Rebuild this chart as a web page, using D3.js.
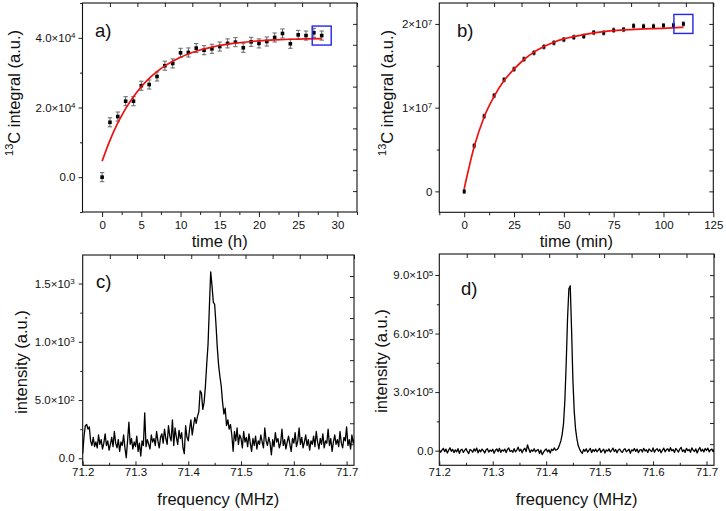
<!DOCTYPE html>
<html><head><meta charset="utf-8">
<script src="https://cdn.jsdelivr.net/npm/d3@7"></script>
<style>
body{margin:0;background:#fff}
svg{display:block}
text{font-family:"Liberation Sans",Arial,sans-serif;fill:#111}
</style>
</head><body>
<svg id="chart" width="726" height="511"></svg>
<script>
// ---------- Panel a data ----------
const timeA = [0,1,2,3,4,5,6,7,8,9,10,11,12,13,14,15,16,17,18,19,20,21,22,23,24,25,26,27,28];
const integralA = [0,15750,17400,21800,21800,26250,26600,28900,32000,32650,35700,35800,37050,36450,36850,37500,38400,38750,37150,38850,38400,38950,40100,41250,38300,40850,40650,41450,40650];
const errA = [1300,1300,1300,1300,1300,1300,1300,1300,1300,1300,1300,1300,1300,1300,1300,1300,1300,1300,1300,1300,1300,1300,1300,1300,1300,1300,1300,1300,1300];
const fitTimeA = [0,1,2,3,4,5,6,7,8,9,10,11,12,13,14,15,16,17,18,19,20,22,24,26,28];
const fitA = [4600,10580,15560,19690,23120,25970,28350,30310,31950,33310,34440,35380,36160,36810,37350,37800,38170,38480,38740,38950,39130,39400,39590,39710,39800];
const yTicksA = [0,20000,40000];
const yTickLabelsA = [["0.0",""],["2.0×10","4"],["4.0×10","4"]];
const yMinorA = [-10000,10000,30000,50000];
const xTicksA = [0,5,10,15,20,25,30];
const xMinorA = [2.5,7.5,12.5,17.5,22.5,27.5,32.5];

// ---------- Panel b data ----------
const timeB = [0,5,10,15,20,25,30,35,40,45,50,55,60,65,70,75,80,85,90,95,100,105,110];
const integralB = [0,5.44e6,8.97e6,1.143e7,1.333e7,1.46e7,1.579e7,1.655e7,1.726e7,1.774e7,1.813e7,1.841e7,1.853e7,1.897e7,1.893e7,1.925e7,1.933e7,1.976e7,1.972e7,1.972e7,1.98e7,1.984e7,2.0e7];
const errB = [2.5e5,2.5e5,2.5e5,2.5e5,2.5e5,2.5e5,2.5e5,2.5e5,2.5e5,2.5e5,2.5e5,2.5e5,2.5e5,2.5e5,2.5e5,2.5e5,2.5e5,2.5e5,2.5e5,2.5e5,2.5e5,2.5e5,2.5e5];
const fitTimeB = [0,5,10,15,20,25,30,35,40,45,50,55,60,70,80,90,100,110];
const fitB = [3.2e5,5.32e6,8.89e6,1.135e7,1.325e7,1.46e7,1.575e7,1.663e7,1.73e7,1.782e7,1.821e7,1.849e7,1.873e7,1.909e7,1.929e7,1.94e7,1.948e7,1.96e7];
const yTicksB = [0,1e7,2e7];
const yTickLabelsB = [["0",""],["1×10","7"],["2×10","7"]];
const yMinorB = [5e6,1.5e7];
const xTicksB = [0,25,50,75,100,125];
const xMinorB = [-12.5,12.5,37.5,62.5,87.5,112.5];

// ---------- Panel c data (spectrum, 71.200 .. 71.720 MHz, step 0.0025) ----------
const freqStart = 71.2, freqStep = 0.0025;
const intensityC = [
40,190,280,290,250,270,150,110,180,100,140,90,200,120,160,80,130,210,110,150,
70,120,180,100,230,130,90,160,60,140,110,200,90,5,150,310,120,170,80,140,
100,190,60,130,20,150,110,390,100,160,120,80,200,140,170,110,230,150,90,180,
210,130,250,170,120,280,190,150,330,110,260,180,120,240,170,220,90,40,280,180,
150,250,330,200,280,350,300,360,400,580,
560,420,480,620,810,980,1300,1600,1480,1340,1320,1150,950,800,700,620,480,380,430,280,330,250,290,200,60,
230,150,260,120,200,170,90,230,140,180,100,210,130,60,170,110,190,80,150,120,
200,140,90,260,150,110,180,130,30,160,100,220,140,170,90,130,250,110,160,80,
140,190,120,60,170,130,220,100,150,260,120,180,90,140,200,110,160,70,150,120,
190,100,230,140,80,170,120,210,90,150,130,250,110,170,60,140,200,120,160,100,
230,130,90,180,150,270,110,160,80,200,130,170,100,150];
const yTicksC = [0,500,1000,1500];
const yTickLabelsC = [["0.0",""],["5.0×10","2"],["1.0×10","3"],["1.5×10","3"]];
const yMinorC = [250,750,1250];
const xTicksF = [71.2,71.3,71.4,71.5,71.6,71.7];
const xMinorF = [71.25,71.35,71.45,71.55,71.65];

// ---------- Panel d data (same grid, values in units of 1e3) ----------
const intensityD_k = [
5,-8,3,12,-5,8,-12,2,15,-3,6,-10,4,-6,10,-14,3,7,-9,1,
11,-4,-15,6,2,-8,9,-2,13,-11,4,-6,8,0,-12,5,10,-7,3,-3,
7,-13,2,9,-5,12,-9,4,-2,8,-10,6,14,-4,1,-8,10,-6,3,18,
-2,7,-11,5,12,-5,30,8,-9,4,-3,10,-6,2,6,-14,3,-20,-8,2,
9,-6,4,-12,7,0,14,3,
5,12,30,50,85,140,260,450,680,830,845,620,360,200,110,60,25,8,-5,
-14,6,-3,10,-8,2,12,-10,5,-4,8,-6,3,11,-9,0,7,-12,4,-2,
9,-7,2,13,-5,6,-11,3,8,-3,-9,5,10,-6,1,7,-13,4,-1,11,
-4,8,-10,3,6,-7,12,-2,5,-9,9,1,-5,14,-8,4,10,-3,7,-11,
2,13,-6,5,9,-4,15,-1,6,-10,11,3,-7,8,17,-5,4,-9,12,0,
6,-8,14,2,-4,9,-12,5,16,-3,7,-7,11,1,13,-6,4,8,-5,10,-2,3];
const yTicksD = [0,300000,600000,900000];
const yTickLabelsD = [["0.0",""],["3.0×10","5"],["6.0×10","5"],["9.0×10","5"]];
const yMinorD = [150000,450000,750000];

// ---------- drawing ----------
const svg = d3.select("#chart");
const defs = svg.append("defs");
let clipId = 0;
const TICK_FONT = "11.5px", TITLE_FONT = "16.5px";

function supLabels(sel, labels){
  sel.selectAll(".tick text").each(function(d,i){
    const t = d3.select(this);
    const [m,e] = labels[i];
    t.text(null);
    t.append("tspan").text(m);
    if(e) t.append("tspan").attr("dy","-0.45em").attr("font-size","8px").text(e);
  });
}

function drawFrame(cfg){
  const {x,y,xTicks,xMinor,yTicks,yLabels,yMinor,xTitle,yTitle,tag,tagPos,xTickInward,xTitleY,yTitleX,yTitleY,ySup,yPad,xFmt} = cfg;
  const [L,R] = x.range(), [B,T] = y.range();
  const g = svg.append("g");
  // bottom axis
  g.append("g").attr("transform",`translate(0,${B})`)
    .call(d3.axisBottom(x).tickValues(xMinor.filter(v=>v>=x.domain()[0]&&v<=x.domain()[1])).tickSize(xTickInward?-2.5:3).tickFormat(""))
    .call(s=>s.select(".domain").remove());
  g.append("g").attr("transform",`translate(0,${B})`)
    .call(d3.axisBottom(x).tickValues(xTicks).tickSizeInner(xTickInward ? -4 : 5).tickSizeOuter(0).tickPadding(xTickInward?2.5:3.5)
      .tickFormat(d3.format(xFmt)))
    .call(s=>s.select(".domain").remove())
    .call(s=>s.selectAll("text").attr("font-size",TICK_FONT).attr("font-family","Liberation Sans, Arial, sans-serif").attr("fill","#111"));
  // left axis
  g.append("g").attr("transform",`translate(${L},0)`)
    .call(d3.axisLeft(y).tickValues(yMinor.filter(v=>v>=y.domain()[0]&&v<=y.domain()[1])).tickSize(2.5).tickFormat(""))
    .call(s=>s.select(".domain").remove());
  const la = g.append("g").attr("transform",`translate(${L},0)`)
    .call(d3.axisLeft(y).tickValues(yTicks).tickSizeInner(4).tickSizeOuter(0).tickPadding(yPad))
    .call(s=>s.select(".domain").remove())
    .call(s=>s.selectAll("text").attr("font-size",TICK_FONT).attr("font-family","Liberation Sans, Arial, sans-serif").attr("fill","#111"));
  supLabels(la, yLabels);
  // top & right decorative ticks (inward)
  const topS = d3.scaleLinear().domain([0,10]).range([L,R]);
  g.append("g").attr("transform",`translate(0,${T})`)
    .call(d3.axisTop(topS).tickValues([1,2,3,4,5,6,7,8,9,10]).tickSize(-4).tickFormat(""))
    .call(s=>s.select(".domain").remove());
  const rightS = d3.scaleLinear().domain([0,10]).range([B,T]);
  g.append("g").attr("transform",`translate(${R},0)`)
    .call(d3.axisRight(rightS).tickValues([1,2,3,4,5,6,7,8,9]).tickSize(-4).tickFormat(""))
    .call(s=>s.select(".domain").remove());
  g.selectAll(".tick line").attr("stroke","#222");
  // frame
  g.append("rect").attr("x",L).attr("y",T).attr("width",R-L).attr("height",B-T)
    .attr("fill","none").attr("stroke","#111").attr("stroke-width",1.1);
  // titles
  g.append("text").attr("x",(L+R)/2).attr("y",xTitleY).attr("text-anchor","middle")
    .attr("font-size",TITLE_FONT).text(xTitle);
  const yt = g.append("text").attr("transform",`translate(${yTitleX},${yTitleY}) rotate(-90)`)
    .attr("text-anchor","middle").attr("font-size",TITLE_FONT);
  if(ySup){
    yt.append("tspan").attr("font-size","11px").attr("dy","-0.6em").text(ySup);
    yt.append("tspan").attr("dy","0.38em").text(yTitle);
  } else yt.text(yTitle);
  g.append("text").attr("x",tagPos[0]).attr("y",tagPos[1]).attr("font-size","18.5px").text(tag);
  // clip
  const id = "clip"+(clipId++);
  defs.append("clipPath").attr("id",id).append("rect").attr("x",L).attr("y",T).attr("width",R-L).attr("height",B-T);
  return svg.append("g").attr("clip-path",`url(#${id})`);
}

function scatterPanel(cfg, t, v, err, ft, fv, capW, sq){
  const {x,y} = cfg;
  const g = drawFrame(cfg);
  const pts = t.map((d,i)=>({t:d,v:v[i],e:err[i]}));
  const eb = g.append("g").attr("stroke","#666").attr("stroke-width",1);
  eb.selectAll(".v").data(pts).join("line")
    .attr("x1",d=>x(d.t)).attr("x2",d=>x(d.t)).attr("y1",d=>y(d.v-d.e)).attr("y2",d=>y(d.v+d.e));
  if(capW>0){
    eb.selectAll(".c1").data(pts).join("line")
      .attr("x1",d=>x(d.t)-capW).attr("x2",d=>x(d.t)+capW).attr("y1",d=>y(d.v+d.e)).attr("y2",d=>y(d.v+d.e));
    eb.selectAll(".c2").data(pts).join("line")
      .attr("x1",d=>x(d.t)-capW).attr("x2",d=>x(d.t)+capW).attr("y1",d=>y(d.v-d.e)).attr("y2",d=>y(d.v-d.e));
  }
  g.append("g").selectAll("rect").data(pts).join("rect")
    .attr("x",d=>x(d.t)-sq[0]/2).attr("y",d=>y(d.v)-sq[1]/2).attr("width",sq[0]).attr("height",sq[1]).attr("fill","#000");
  const line = d3.line().x((d,i)=>x(ft[i])).y((d,i)=>y(fv[i])).curve(d3.curveMonotoneX);
  g.append("path").datum(fv).attr("d",line).attr("fill","none").attr("stroke","#ee1111").attr("stroke-width",1.7);
  // highlight box around the last point
  const last = pts[pts.length-1];
  const h = 9.5;
  svg.append("rect").attr("x",x(last.t)-h).attr("y",y(last.v)-h).attr("width",2*h).attr("height",2*h)
    .attr("fill","none").attr("stroke","#2424ee").attr("stroke-width",1.4);
}

function spectrumPanel(cfg, vals, scale){
  const {x,y} = cfg;
  const g = drawFrame(cfg);
  const line = d3.line().x((d,i)=>x(freqStart+i*freqStep)).y(d=>y(d*scale));
  g.append("path").datum(vals).attr("d",line).attr("fill","none").attr("stroke","#000")
    .attr("stroke-width",1.3).attr("stroke-linejoin","round");
}

// Panel a
scatterPanel({
  x:d3.scaleLinear().domain([-2.5,32.5]).range([82.5,357]),
  y:d3.scaleLinear().domain([-10000,50000]).range([212,3]),
  xTicks:xTicksA,xMinor:xMinorA,yTicks:yTicksA,yLabels:yTickLabelsA,yMinor:yMinorA,xFmt:"d",
  xTitle:"time (h)",yTitle:"C integral (a.u.)",ySup:"13",tag:"a)",tagPos:[95,37],
  xTitleY:247,yTitleX:20,yTitleY:93,yPad:3
}, timeA, integralA, errA, fitTimeA, fitA, 2.2, [3.6,3.6]);

// Panel b
scatterPanel({
  x:d3.scaleLinear().domain([-12.5,125]).range([439.3,713.3]),
  y:d3.scaleLinear().domain([-2.5e6,2.25e7]).range([212.3,3]),
  xTicks:xTicksB,xMinor:xMinorB,yTicks:yTicksB,yLabels:yTickLabelsB,yMinor:yMinorB,xFmt:"d",
  xTitle:"time (min)",yTitle:"C integral (a.u.)",ySup:"13",tag:"b)",tagPos:[457,37],
  xTitleY:247,yTitleX:393,yTitleY:93,yPad:3
}, timeB, integralB, errB, fitTimeB, fitB, 1.2, [3,3.6]);

// Panel c
spectrumPanel({
  x:d3.scaleLinear().domain([71.2,71.714]).range([82.7,354]),
  y:d3.scaleLinear().domain([-60,1745]).range([465.3,255]),
  xTicks:xTicksF,xMinor:xMinorF,yTicks:yTicksC,yLabels:yTickLabelsC,yMinor:yMinorC,xTickInward:true,xFmt:".1f",
  xTitle:"frequency (MHz)",yTitle:"intensity (a.u.)",tag:"c)",tagPos:[96,288],
  xTitleY:505,yTitleX:27,yTitleY:362,yPad:4
}, intensityC, 1);

// Panel d
spectrumPanel({
  x:d3.scaleLinear().domain([71.2,71.714]).range([439.3,714]),
  y:d3.scaleLinear().domain([-75000,1007500]).range([465.3,254]),
  xTicks:xTicksF,xMinor:xMinorF,yTicks:yTicksD,yLabels:yTickLabelsD,yMinor:yMinorD,xTickInward:true,xFmt:".1f",
  xTitle:"frequency (MHz)",yTitle:"intensity (a.u.)",tag:"d)",tagPos:[461,295],
  xTitleY:505,yTitleX:387,yTitleY:361,yPad:2
}, intensityD_k, 1000);
</script>
</body></html>
